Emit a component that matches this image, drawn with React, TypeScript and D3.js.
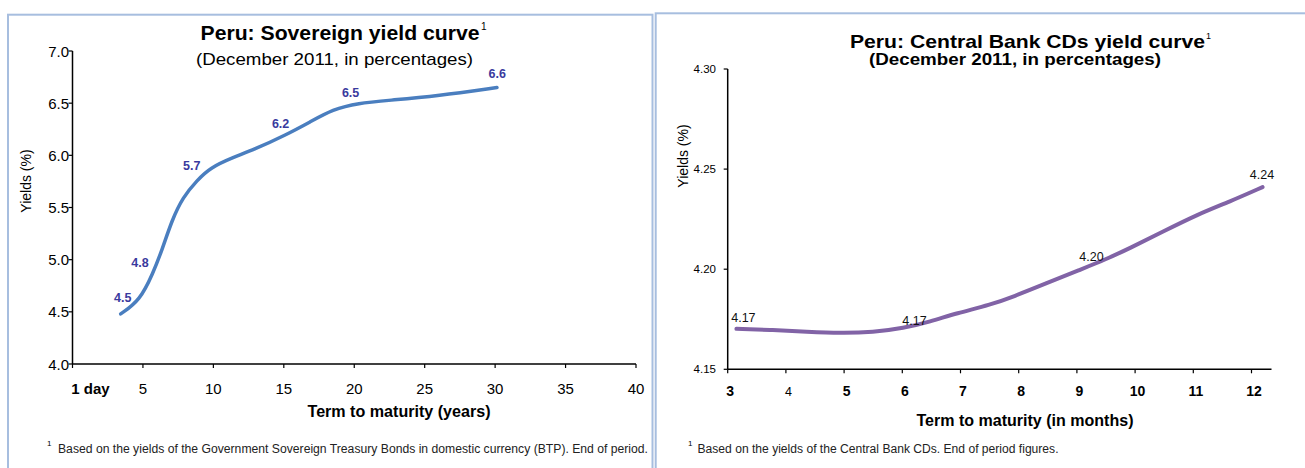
import React from "react";
import * as d3 from "d3";

// ---------- Left chart: Sovereign yield curve ----------
const sovTerms = [3.42, 4.79, 5.71, 6.35, 7.06, 7.84, 8.84, 9.76, 11.39, 12.81, 15.22, 16.86, 18.49, 20.19, 22.75, 25.87, 30.13];
const sovYields = [4.48, 4.61, 4.87, 5.09, 5.38, 5.6, 5.76, 5.88, 5.98, 6.05, 6.2, 6.32, 6.44, 6.5, 6.53, 6.57, 6.65];
const sovLabelTerms = [3.56, 4.79, 8.46, 14.77, 19.74, 30.15];
const sovLabelValues = [4.5, 4.8, 5.7, 6.2, 6.5, 6.6];
const sovXTicks = [0, 5, 10, 15, 20, 25, 30, 35, 40];
const sovXTickLabels = ["1 day", "5", "10", "15", "20", "25", "30", "35", "40"];
const sovYTicks = [4.0, 4.5, 5.0, 5.5, 6.0, 6.5, 7.0];

// ---------- Right chart: Central Bank CDs yield curve ----------
const cdTerms = [3.15, 3.78, 4.36, 4.93, 5.5, 6.02, 6.48, 6.93, 7.51, 7.91, 8.48, 9.05, 9.48, 9.91, 10.48, 11.06, 11.63, 12.19];
const cdYields = [4.1702, 4.1697, 4.1688, 4.168, 4.1685, 4.1705, 4.1738, 4.178, 4.1822, 4.1863, 4.193, 4.1997, 4.2047, 4.2105, 4.2188, 4.2272, 4.2338, 4.241];
const cdLabelTerms = [3.27, 6.21, 9.25, 12.18];
const cdLabelValues = [4.17, 4.17, 4.2, 4.24];
const cdXTicks = [3, 4, 5, 6, 7, 8, 9, 10, 11, 12];
const cdYTicks = [4.15, 4.2, 4.25, 4.3];

const FONT = "'Liberation Sans', Arial, sans-serif";
const NARROW = "'Liberation Sans Narrow', 'Liberation Sans', Arial, sans-serif";

export default function App() {
  // Left scales
  const xL = d3.scaleLinear().domain([0, 40]).range([72.5, 636]);
  const yL = d3.scaleLinear().domain([4, 7]).range([364, 51]);
  const lineL = d3
    .line<number>()
    .x((_, i) => xL(sovTerms[i]))
    .y((d) => yL(d))
    .curve(d3.curveBasis);
  const sovLift = [14, 18.5, 21.5, 11, 11, 19.5];

  // Right scales
  const xR = d3.scaleLinear().domain([3, 12]).range([727.7, 1251.5]);
  const yR = d3.scaleLinear().domain([4.15, 4.3]).range([369.3, 69]);
  const lineR = d3
    .line<number>()
    .x((_, i) => xR(cdTerms[i]))
    .y((d) => yR(d))
    .curve(d3.curveBasis);
  const cdLift = [11.5, 8.5, 13, 15];

  const border = "#a7bedf";

  return (
    <svg
      width={1305}
      height={468}
      style={{ position: "absolute", left: 0, top: 0, background: "#fff" }}
      fontFamily={FONT}
    >
      {/* panel borders */}
      <rect x={8} y={14.7} width={644.5} height={480} fill="none" stroke={border} strokeWidth={2} />
      <rect x={655.7} y={13.3} width={680} height={480} fill="none" stroke={border} strokeWidth={2} />

      {/* ===== Left chart ===== */}
      <text x={340} y={39.5} textAnchor="middle" fontSize={20} fontWeight="bold" textLength={279} lengthAdjust="spacingAndGlyphs">
        Peru: Sovereign yield curve
      </text>
      <text x={481} y={30} fontSize={10}>1</text>
      <text x={334.5} y={64.5} textAnchor="middle" fontSize={17} textLength={277} lengthAdjust="spacingAndGlyphs">
        (December 2011, in percentages)
      </text>

      {/* axes */}
      <line x1={xL(0)} x2={xL(0)} y1={yL(7)} y2={yL(4)} stroke="#000" strokeWidth={1.5} />
      <line x1={xL(0)} x2={xL(40)} y1={yL(4)} y2={yL(4)} stroke="#000" strokeWidth={1.5} />
      {sovYTicks.map((t) => (
        <g key={"ly" + t}>
          <line x1={xL(0) - 4} x2={xL(0)} y1={yL(t)} y2={yL(t)} stroke="#000" strokeWidth={1.2} />
          <text x={xL(0) - 3.5} y={yL(t) + 5.5} textAnchor="end" fontSize={15}>
            {d3.format(".1f")(t)}
          </text>
        </g>
      ))}
      {sovXTicks.map((t, i) => (
        <g key={"lx" + t}>
          <line x1={xL(t)} x2={xL(t)} y1={yL(4)} y2={yL(4) + 4} stroke="#000" strokeWidth={1.2} />
          <text
            x={i === 0 ? xL(t) + 18 : xL(t)}
            y={393.5}
            textAnchor="middle"
            fontSize={15}
            fontWeight={i === 0 ? "bold" : "normal"}
          >
            {sovXTickLabels[i]}
          </text>
        </g>
      ))}
      <text x={399} y={417} textAnchor="middle" fontSize={16} fontWeight="bold" textLength={183} lengthAdjust="spacingAndGlyphs">
        Term to maturity (years)
      </text>
      <text transform="translate(31,181) rotate(-90)" textAnchor="middle" fontSize={14}>
        Yields (%)
      </text>

      <path d={lineL(sovYields) || ""} fill="none" stroke="#4a7ebf" strokeWidth={3.5} strokeLinecap="round" />
      {sovLabelValues.map((v, i) => (
        <text
          key={"ll" + i}
          x={xL(sovLabelTerms[i])}
          y={yL(v) - sovLift[i] + 4.5}
          textAnchor="middle"
          fontSize={12.5}
          fontWeight="bold"
          fill="#3a3a9e"
        >
          {d3.format(".1f")(v)}
        </text>
      ))}

      <text x={47} y={446} fontSize={8} fontFamily={NARROW}>1</text>
      <text x={58} y={453} fontSize={12} fontFamily={NARROW} fill="#222" textLength={590} lengthAdjust="spacingAndGlyphs">
        Based on the yields of the Government Sovereign  Treasury Bonds in domestic currency (BTP). End of period.
      </text>

      {/* ===== Right chart ===== */}
      <text x={1027.5} y={47.5} textAnchor="middle" fontSize={19} fontWeight="bold" textLength={355} lengthAdjust="spacingAndGlyphs">
        Peru: Central Bank CDs yield curve
      </text>
      <text x={1206} y={39} fontSize={9}>1</text>
      <text x={1015} y={65} textAnchor="middle" fontSize={16} fontWeight="bold" textLength={292} lengthAdjust="spacingAndGlyphs">
        (December 2011, in percentages)
      </text>

      <line x1={xR(3)} x2={xR(3)} y1={yR(4.3)} y2={yR(4.15)} stroke="#000" strokeWidth={1.5} />
      <line x1={xR(3)} x2={1271.5} y1={yR(4.15)} y2={yR(4.15)} stroke="#000" strokeWidth={1.5} />
      {cdYTicks.map((t) => (
        <g key={"ry" + t}>
          <line x1={xR(3) - 4} x2={xR(3)} y1={yR(t)} y2={yR(t)} stroke="#000" strokeWidth={1.2} />
          <text x={716} y={yR(t) + 4} textAnchor="end" fontSize={11.5}>
            {d3.format(".2f")(t)}
          </text>
        </g>
      ))}
      {cdXTicks.map((t) => (
        <g key={"rx" + t}>
          <line x1={xR(t)} x2={xR(t)} y1={yR(4.15)} y2={yR(4.15) + 4} stroke="#000" strokeWidth={1.2} />
          <text
            x={xR(t) + 2.5}
            y={396}
            textAnchor="middle"
            fontSize={t === 4 ? 12.5 : 14}
            fontWeight={t === 4 ? "normal" : "bold"}
          >
            {t}
          </text>
        </g>
      ))}
      <text x={1025} y={425.5} textAnchor="middle" fontSize={16} fontWeight="bold" textLength={217} lengthAdjust="spacingAndGlyphs">
        Term to maturity (in months)
      </text>
      <text transform="translate(688,156) rotate(-90)" textAnchor="middle" fontSize={14}>
        Yields (%)
      </text>

      <path d={lineR(cdYields) || ""} fill="none" stroke="#8163a6" strokeWidth={4} strokeLinecap="round" />
      {cdLabelValues.map((v, i) => (
        <text
          key={"rl" + i}
          x={xR(cdLabelTerms[i])}
          y={yR(v) - cdLift[i] + 4.5}
          textAnchor="middle"
          fontSize={12.5}
          fill="#111"
        >
          {d3.format(".2f")(v)}
        </text>
      ))}

      <text x={688} y={446} fontSize={8} fontFamily={NARROW}>1</text>
      <text x={697.5} y={453} fontSize={12} fontFamily={NARROW} fill="#222" textLength={361} lengthAdjust="spacingAndGlyphs">
        Based on the yields of the Central Bank  CDs. End of period figures.
      </text>
    </svg>
  );
}
